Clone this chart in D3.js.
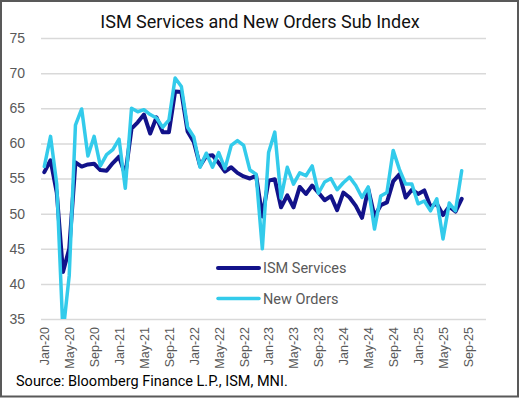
<!DOCTYPE html>
<html>
<head>
<meta charset="utf-8">
<script src="https://cdn.jsdelivr.net/npm/d3@7"></script>
<style>
  html, body { margin: 0; padding: 0; background: #fff; }
  svg { display: block; font-family: Roboto, "Open Sans", sans-serif; }
</style>
</head>
<body>
<div id="chart"></div>
<script>
// ISM Services PMI and New Orders sub index, monthly Jan-20 .. Aug-25
const ismServices = [
    55.9, 57.6, 53.0, 41.7, 45.0, 57.3, 56.7, 57.0, 57.1, 56.2, 56.1, 57.2,
    58.1, 55.5, 62.1, 63.0, 64.1, 61.4, 63.7, 61.6, 61.6, 67.4, 67.3, 61.7,
    60.2, 56.8, 58.2, 58.3, 57.2, 56.0, 56.6, 55.8, 55.3, 55.0, 55.4, 49.6,
    54.7, 54.9, 50.9, 52.6, 50.9, 53.8, 52.8, 54.0, 53.0, 51.9, 52.5, 50.5,
    53.0, 52.3, 51.1, 49.4, 53.5, 49.6, 51.2, 51.6, 54.6, 55.6, 52.3, 53.4,
    52.8, 53.3, 51.0, 51.4, 49.8, 51.0, 50.3, 52.1
];
const newOrders = [
    56.7, 61.0, 54.2, 33.0, 41.2, 62.6, 64.9, 58.2, 61.0, 56.8, 58.4, 59.1,
    60.6, 53.6, 65.0, 64.5, 64.8, 64.1, 63.6, 62.3, 63.3, 69.3, 68.1, 62.3,
    60.9, 56.6, 58.6, 56.6, 58.7, 56.4, 59.7, 60.4, 59.7, 56.2, 55.6, 45.0,
    58.7, 61.6, 52.2, 56.6, 54.2, 55.8, 55.4, 56.8, 52.9, 54.5, 55.0, 53.4,
    54.4, 55.2, 54.0, 52.3, 53.8, 47.8, 52.5, 53.0, 59.0, 56.3, 54.2, 54.2,
    51.4, 51.8, 50.4, 52.1, 46.4, 51.5, 50.4, 56.1
];
const tickLabels = [
    "Jan-20", "May-20", "Sep-20", "Jan-21", "May-21", "Sep-21", "Jan-22", "May-22", "Sep-22",
    "Jan-23", "May-23", "Sep-23", "Jan-24", "May-24", "Sep-24", "Jan-25", "May-25", "Sep-25"
];
const yTicks = [35, 40, 45, 50, 55, 60, 65, 70, 75];
const seriesNames = ["ISM Services", "New Orders"];
const seriesColors = ["#12128a", "#33cbeb"];

const width = 529, height = 399;
const plot = { left: 41, right: 486, top: 38, bottom: 319 };

const svg = d3.select("#chart").append("svg")
    .attr("width", width)
    .attr("height", height);

svg.append("rect").attr("width", width).attr("height", height).attr("fill", "#fff");
svg.append("rect")
    .attr("x", 1).attr("y", 1).attr("width", 517).attr("height", 395.5)
    .attr("fill", "none").attr("stroke", "#595959").attr("stroke-width", 2);

// month index scale (0 = Jan-20)
const x = d3.scaleLinear().domain([-0.53, 70.9]).range([plot.left, plot.right]);
const y = d3.scaleLinear().domain([35, 75]).range([plot.bottom, plot.top]);

// title
svg.append("text")
    .attr("x", 260).attr("y", 28)
    .attr("text-anchor", "middle")
    .style("font-size", "18px")
    .style("fill", "#111")
    .text("ISM Services and New Orders Sub Index");

// y axis + gridlines
const yAxis = svg.append("g")
    .attr("transform", `translate(${plot.left},0)`)
    .call(d3.axisLeft(y).tickValues(yTicks).tickSize(-(plot.right - plot.left)).tickPadding(16));
yAxis.select(".domain").remove();
yAxis.selectAll("line").attr("stroke", "#d9d9d9").attr("stroke-width", 1.5);
yAxis.selectAll("text").style("font-size", "14px").style("fill", "#595959");

// x axis labels
const xAxis = svg.append("g")
    .attr("transform", `translate(0,${plot.bottom})`)
    .call(d3.axisBottom(x).tickValues(d3.range(0, 69, 4)).tickFormat((d, i) => tickLabels[i]).tickSize(0));
xAxis.select(".domain").remove();
xAxis.selectAll("text")
    .attr("transform", "rotate(-90)")
    .attr("x", -8).attr("y", 0).attr("dy", "0.35em")
    .attr("text-anchor", "end")
    .style("font-size", "12.5px")
    .style("fill", "#595959");

// lines
svg.append("clipPath").attr("id", "plotClip")
    .append("rect")
    .attr("x", plot.left - 4).attr("y", plot.top)
    .attr("width", plot.right - plot.left + 8).attr("height", plot.bottom - plot.top);

const line = d3.line().x((d, i) => x(i)).y(d => y(d));
const g = svg.append("g").attr("clip-path", "url(#plotClip)");
[ismServices, newOrders].forEach((data, k) => {
    g.append("path").datum(data)
        .attr("fill", "none")
        .attr("stroke", seriesColors[k])
        .attr("stroke-width", k === 0 ? 4 : 3.5)
        .attr("stroke-linejoin", "round")
        .attr("stroke-linecap", "round")
        .attr("d", line);
});

// legend
const legend = svg.append("g");
seriesNames.forEach((name, k) => {
    const ly = 268 + k * 30.5;
    legend.append("line")
        .attr("x1", 218).attr("x2", 259).attr("y1", ly).attr("y2", ly)
        .attr("stroke", seriesColors[k]).attr("stroke-width", k === 0 ? 4 : 3.5)
        .attr("stroke-linecap", "round");
    legend.append("text")
        .attr("x", 263).attr("y", ly).attr("dy", "0.35em")
        .style("font-size", "14.5px").style("fill", "#595959")
        .text(name);
});

// source
svg.append("text")
    .attr("x", 16).attr("y", 386)
    .style("font-size", "14.5px")
    .style("fill", "#000")
    .text("Source: Bloomberg Finance L.P., ISM, MNI.");
</script>
</body>
</html>
